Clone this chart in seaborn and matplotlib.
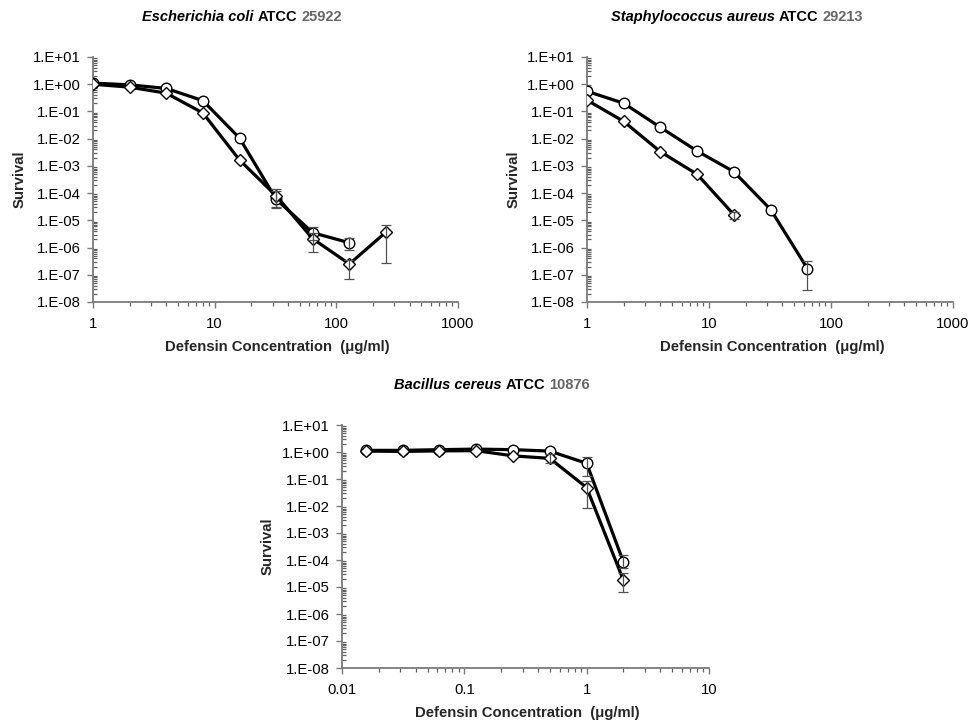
import numpy as np
import pandas as pd
import matplotlib
matplotlib.use("Agg")
import matplotlib.pyplot as plt
from matplotlib.ticker import FixedLocator, FixedFormatter, LogLocator, NullFormatter
import seaborn as sns

# ---------------- data ----------------
nan = np.nan
# E. coli ATCC 25922
ecoli_conc_c = [1, 2, 4, 8, 16, 32, 64, 128]
ecoli_surv_c = [1.1, 0.95, 0.70, 0.25, 0.0105, 6.0e-5, 3.5e-6, 1.5e-6]
ecoli_hi_c = [nan, nan, nan, nan, nan, 1.2e-4, 5.9e-6, 2.3e-6]
ecoli_lo_c = [nan, nan, nan, nan, nan, 2.8e-5, 1.9e-6, 8.0e-7]
ecoli_conc_d = [1, 2, 4, 8, 16, 32, 64, 128, 256]
ecoli_surv_d = [1.0, 0.78, 0.47, 0.088, 1.65e-3, 8.0e-5, 2.1e-6, 2.5e-7, 3.7e-6]
ecoli_hi_d = [nan, nan, nan, nan, nan, 1.37e-4, 3.5e-6, 3.6e-7, 7.0e-6]
ecoli_lo_d = [nan, nan, nan, nan, nan, 3.0e-5, 7.0e-7, 7.0e-8, 2.8e-7]

# S. aureus ATCC 29213
saur_conc_c = [1, 2, 4, 8, 16, 32, 64]
saur_surv_c = [0.55, 0.20, 0.026, 3.5e-3, 6.1e-4, 2.5e-5, 1.7e-7]
saur_hi_c = [nan, nan, nan, nan, nan, nan, 3.2e-7]
saur_lo_c = [nan, nan, nan, nan, nan, nan, 2.8e-8]
saur_conc_d = [1, 2, 4, 8, 16]
saur_surv_d = [0.26, 0.043, 3.3e-3, 4.9e-4, 1.6e-5]
saur_hi_d = [nan, nan, nan, nan, 2.1e-5]
saur_lo_d = [nan, nan, nan, nan, 1.1e-5]

# B. cereus ATCC 10876
bcer_conc_c = [0.015625, 0.03125, 0.0625, 0.125, 0.25, 0.5, 1, 2]
bcer_surv_c = [1.15, 1.15, 1.22, 1.28, 1.22, 1.08, 0.38, 8.3e-5]
bcer_hi_c = [nan, nan, nan, nan, nan, nan, 0.63, 1.5e-4]
bcer_lo_c = [nan, nan, nan, nan, nan, nan, 0.13, 5.0e-5]
bcer_conc_d = [0.015625, 0.03125, 0.0625, 0.125, 0.25, 0.5, 1, 2]
bcer_surv_d = [1.08, 1.05, 1.10, 1.12, 0.72, 0.58, 0.048, 1.75e-5]
bcer_hi_d = [nan, nan, nan, nan, nan, 0.85, 0.085, 3.2e-5]
bcer_lo_d = [nan, nan, nan, nan, nan, 0.38, 8.7e-3, 6.5e-6]

ytick_values = [1e1, 1e0, 1e-1, 1e-2, 1e-3, 1e-4, 1e-5, 1e-6, 1e-7, 1e-8]
ytick_labels = ["1.E+01", "1.E+00", "1.E-01", "1.E-02", "1.E-03",
                "1.E-04", "1.E-05", "1.E-06", "1.E-07", "1.E-08"]
xtick_top_values = [1, 10, 100, 1000]
xtick_top_labels = ["1", "10", "100", "1000"]
xtick_bot_values = [0.01, 0.1, 1, 10]
xtick_bot_labels = ["0.01", "0.1", "1", "10"]

titles = [("Escherichia coli", "ATCC", "25922"),
          ("Staphylococcus aureus", "ATCC", "29213"),
          ("Bacillus cereus", "ATCC", "10876")]
xlabel_text = "Defensin Concentration  (\u03bcg/ml)"
ylabel_text = "Survival"

# ---------------- style ----------------
sns.set_theme(style="ticks")
plt.rcParams["font.family"] = ["Liberation Sans", "DejaVu Sans"]

W, H = 970, 722
fig = plt.figure(figsize=(W / 100, H / 100), dpi=100)
fig.patch.set_facecolor("white")

SPINE = "#7a7a7a"
ERR = "#505050"


def px_axes(left, top, right, bottom):
    return fig.add_axes([left / W, 1 - bottom / H, (right - left) / W, (bottom - top) / H])


def build_df(conc_c, surv_c, conc_d, surv_d):
    return pd.DataFrame({
        "conc": list(conc_c) + list(conc_d),
        "surv": list(surv_c) + list(surv_d),
        "series": ["circle"] * len(conc_c) + ["diamond"] * len(conc_d),
    })


def draw_panel(ax, conc_c, surv_c, hi_c, lo_c, conc_d, surv_d, hi_d, lo_d,
               xlim, xt_vals, xt_labels):
    ax.set_xscale("log")
    ax.set_yscale("log")
    df = build_df(conc_c, surv_c, conc_d, surv_d)
    sns.lineplot(data=df, x="conc", y="surv", style="series",
                 markers={"circle": "o", "diamond": "D"}, dashes=False,
                 color="black", linewidth=2.3, markersize=7.6,
                 markerfacecolor="white", markeredgecolor="black",
                 markeredgewidth=1.0, legend=False, errorbar=None,
                 sort=True, ax=ax, zorder=3)
    for ln in ax.get_lines():
        if ln.get_marker() == "D":
            ln.set_markersize(6.2)
    # error bars
    for conc, surv, hi, lo in ((conc_c, surv_c, hi_c, lo_c), (conc_d, surv_d, hi_d, lo_d)):
        conc = np.asarray(conc, float); surv = np.asarray(surv, float)
        hi = np.asarray(hi, float); lo = np.asarray(lo, float)
        m = np.isfinite(hi) & np.isfinite(lo)
        if m.any():
            yerr = np.vstack([surv[m] - lo[m], hi[m] - surv[m]])
            ax.errorbar(conc[m], surv[m], yerr=yerr, fmt="none", ecolor=ERR,
                        elinewidth=0.9, capsize=3.5, capthick=0.9, zorder=4)
    ax.set_xlim(*xlim)
    ax.set_ylim(1e-8, 1e1)
    ax.yaxis.set_major_locator(FixedLocator(ytick_values))
    ax.yaxis.set_major_formatter(FixedFormatter(ytick_labels))
    ax.yaxis.set_minor_locator(LogLocator(base=10, subs=np.arange(2, 10), numticks=50))
    ax.yaxis.set_minor_formatter(NullFormatter())
    ax.xaxis.set_major_locator(FixedLocator(xt_vals))
    ax.xaxis.set_major_formatter(FixedFormatter(xt_labels))
    ax.xaxis.set_minor_locator(LogLocator(base=10, subs=np.arange(2, 10), numticks=50))
    ax.xaxis.set_minor_formatter(NullFormatter())
    ax.set_xlabel("")
    ax.set_ylabel("")
    for side in ("top", "right"):
        ax.spines[side].set_visible(False)
    for side in ("left", "bottom"):
        ax.spines[side].set_color(SPINE)
        ax.spines[side].set_linewidth(1.3)
    ax.tick_params(axis="both", which="major", labelsize=10.7, colors=SPINE,
                   labelcolor="black", width=1.0)
    ax.tick_params(axis="y", which="major", direction="out", length=4, pad=5)
    ax.tick_params(axis="y", which="minor", direction="in", length=3, width=0.9, colors="#606060")
    ax.tick_params(axis="x", which="major", direction="out", length=4, pad=7)
    ax.tick_params(axis="x", which="minor", direction="out", length=3, width=0.9, colors="#606060")
    ax.set_facecolor("white")
    ax.grid(False)


panels = [
    dict(box=(93, 57, 458, 302), xlim=(1, 1000), xt=(xtick_top_values, xtick_top_labels),
         data=(ecoli_conc_c, ecoli_surv_c, ecoli_hi_c, ecoli_lo_c,
               ecoli_conc_d, ecoli_surv_d, ecoli_hi_d, ecoli_lo_d),
         title_xy=(242, 17), ylab_x=20, xlab_y=347),
    dict(box=(587, 57, 953, 302), xlim=(1, 1000), xt=(xtick_top_values, xtick_top_labels),
         data=(saur_conc_c, saur_surv_c, saur_hi_c, saur_lo_c,
               saur_conc_d, saur_surv_d, saur_hi_d, saur_lo_d),
         title_xy=(737, 17), ylab_x=514, xlab_y=347),
    dict(box=(342, 425, 709, 668), xlim=(0.01, 10), xt=(xtick_bot_values, xtick_bot_labels),
         data=(bcer_conc_c, bcer_surv_c, bcer_hi_c, bcer_lo_c,
               bcer_conc_d, bcer_surv_d, bcer_hi_d, bcer_lo_d),
         title_xy=(492, 385), ylab_x=268, xlab_y=713),
]

renderer = fig.canvas.get_renderer()


def compound_title(cx, cy, parts):
    species, atcc, num = parts
    fs = 10.5
    specs = [(species, dict(style="italic", weight="bold", color="black")),
             (atcc, dict(weight="bold", color="black")),
             (num, dict(weight="bold", color="#666666"))]
    texts = [fig.text(0, 1 - cy / H, s, fontsize=fs, va="center", ha="left", **kw)
             for s, kw in specs]
    widths = [t.get_window_extent(renderer).width for t in texts]
    gap = fs * 0.278 * 100 / 72
    total = sum(widths) + gap * (len(texts) - 1)
    x = cx - total / 2
    for t, w in zip(texts, widths):
        t.set_x(x / W)
        x += w + gap


for p, title in zip(panels, titles):
    ax = px_axes(*p["box"])
    draw_panel(ax, *p["data"], p["xlim"], *p["xt"])
    l, t, r, b = p["box"]
    fig.text(((l + r) / 2 + 2) / W, 1 - p["xlab_y"] / H, xlabel_text, fontsize=10.7,
             weight="bold", ha="center", va="center")
    fig.text(p["ylab_x"] / W, 1 - ((t + b) / 2) / H, ylabel_text, fontsize=10.7,
             weight="bold", ha="center", va="center", rotation=90)
    compound_title(p["title_xy"][0], p["title_xy"][1], title)

fig.savefig("out.png", dpi=100, facecolor="white")
